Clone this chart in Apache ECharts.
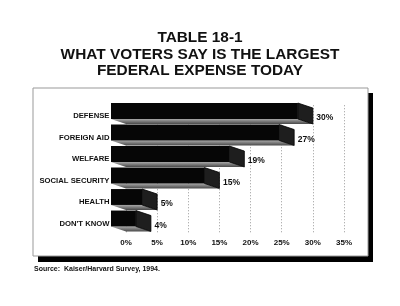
<!DOCTYPE html>
<html>
<head>
<meta charset="utf-8">
<script src="https://cdn.jsdelivr.net/npm/echarts@6/dist/echarts.min.js"></script>
<style>
  html, body { margin: 0; padding: 0; background: #fff; }
  #chart { width: 400px; height: 306px; }
</style>
</head>
<body>
<div id="chart"></div>
<script>
var categories = ["DEFENSE", "FOREIGN AID", "WELFARE", "SOCIAL SECURITY", "HEALTH", "DON'T KNOW"];
var percents = [30, 27, 19, 15, 5, 4];
var tickLabels = ["0%", "5%", "10%", "15%", "20%", "25%", "30%", "35%"];

var font = "Liberation Sans, Arial, sans-serif";
// 3d depth of the bars, front face sits up-left of the back face
var dx = 15, dy = 5;

function renderBar(params, api) {
  var end = api.coord([api.value(0), api.value(1)]);
  var start = api.coord([0, api.value(1)]);
  var h = api.size([0, 1])[1] * 0.74;
  var c = end[1];
  var top = c - h / 2, bot = c + h / 2;
  var sx = start[0], ex = end[0];
  return {
    type: "group",
    children: [
      {
        type: "polygon",
        shape: { points: [[sx - dx, bot - dy], [ex - dx, bot - dy], [ex, bot], [sx, bot]] },
        style: {
          fill: new echarts.graphic.LinearGradient(0, 0, 0, 1, [
            { offset: 0, color: "#a8a8a8" },
            { offset: 1, color: "#4a4a4a" }
          ])
        }
      },
      {
        type: "polygon",
        shape: { points: [[ex - dx, top - dy], [ex, top], [ex, bot], [ex - dx, bot - dy]] },
        style: { fill: "#1e1e1e", stroke: "#000", lineWidth: 0.8 }
      },
      {
        type: "rect",
        shape: { x: sx - dx, y: top - dy, width: ex - sx, height: h },
        style: { fill: "#060606" }
      },
      {
        type: "text",
        x: ex + 3.5,
        y: c + 2,
        style: {
          text: api.value(0) + "%",
          font: "bold 8.5px " + font,
          fill: "#111",
          align: "left",
          verticalAlign: "middle"
        }
      }
    ]
  };
}

var chart = echarts.init(document.getElementById("chart"));
var option = {
  animation: false,
  backgroundColor: "#fff",
  title: {
    text: "TABLE 18-1\nWHAT VOTERS SAY IS THE LARGEST\nFEDERAL EXPENSE TODAY",
    left: "center",
    top: 29.5,
    padding: 0,
    textStyle: { fontFamily: font, fontSize: 15.4, fontWeight: "bold", lineHeight: 16.5, color: "#111" }
  },
  graphic: [
    { type: "rect", z: -10, shape: { x: 38, y: 93, width: 335, height: 169 }, style: { fill: "#000" } },
    { type: "rect", z: -9, shape: { x: 33, y: 88, width: 335, height: 168 }, style: { fill: "#fff", stroke: "#999", lineWidth: 1 } },
    {
      type: "text", left: 34, top: 266,
      style: { text: "Source:  Kaiser/Harvard Survey, 1994.", font: "bold 7px " + font, fill: "#111" }
    }
  ],
  grid: { left: 126, right: 56, top: 105.25, bottom: 71.75 },
  xAxis: {
    type: "value",
    min: 0,
    max: 35,
    interval: 5,
    axisLine: { show: false },
    axisTick: { show: false },
    axisLabel: {
      margin: 5,
      fontFamily: font,
      fontSize: 8,
      fontWeight: "bold",
      color: "#111",
      formatter: function (v) { return tickLabels[v / 5]; }
    },
    splitLine: { show: true, lineStyle: { color: "#999", type: [1, 2], width: 1 } }
  },
  yAxis: {
    type: "category",
    inverse: true,
    data: categories,
    axisLine: { show: false },
    axisTick: { show: false },
    axisLabel: {
      margin: 16.5,
      fontFamily: font,
      fontSize: 7.7,
      fontWeight: "bold",
      color: "#111",
      padding: [0, 0, 7, 0]
    }
  },
  series: [
    {
      type: "custom",
      renderItem: renderBar,
      encode: { x: 0, y: 1 },
      data: percents.map(function (v, i) { return [v, i]; })
    }
  ]
};
chart.setOption(option);
</script>
</body>
</html>
